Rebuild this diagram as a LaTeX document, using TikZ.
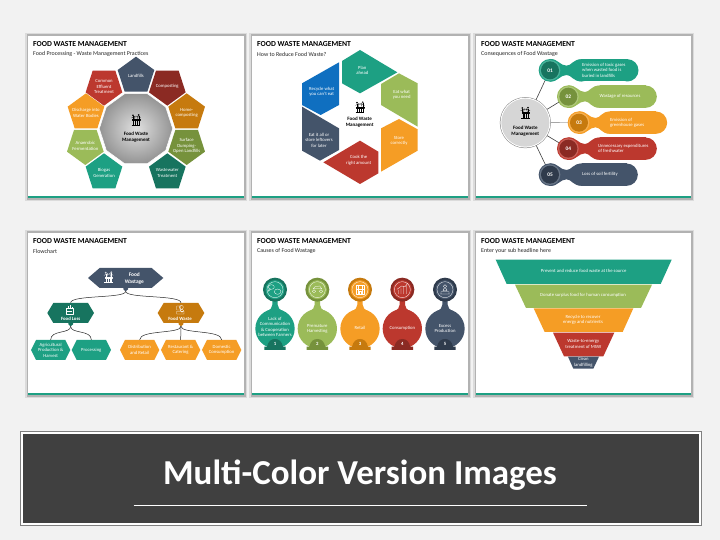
\documentclass[tikz,border=0pt]{standalone}
\usepackage{fontspec}
\setmainfont{Carlito}
\usetikzlibrary{shadings}
\definecolor{teal}{HTML}{1DA083}
\definecolor{dteal}{HTML}{17745F}
\definecolor{lgreen}{HTML}{9BBB59}
\definecolor{dgreen}{HTML}{76923C}
\definecolor{orng}{HTML}{F59D25}
\definecolor{dorng}{HTML}{C67A0E}
\definecolor{red1}{HTML}{BC382E}
\definecolor{dred}{HTML}{8B2A23}
\definecolor{slate}{HTML}{44546A}
\definecolor{dslate}{HTML}{2F3B4C}
\definecolor{blue1}{HTML}{0F6FC0}
\definecolor{pagebg}{HTML}{F2F2F2}
\tikzset{
 ttl/.style={font=\fontsize{7.7}{8}\selectfont\bfseries,anchor=west,inner sep=0pt,black},
 sub/.style={font=\fontsize{5.95}{6.5}\selectfont,anchor=west,inner sep=0pt,black!85},
 lab/.style={font=\fontsize{4.7}{5.4}\selectfont,text=white,align=center,inner sep=0pt},
 blab/.style={font=\fontsize{5}{6}\selectfont\bfseries,text=black,align=center,inner sep=0pt},
 hlab/.style={font=\fontsize{4.8}{6}\selectfont\bfseries,text=white,align=center,inner sep=0pt},
 wire/.style={black!85,line width=0.5pt},
 spoke/.style={black!75,line width=0.6pt},
 ico/.style={line width=0.3pt,line join=round}
}
\newcommand{\panel}[6]{%
 \fill[black!14] (#1-3,#2-3) rectangle (#3+3,#4+3);
 \fill[black!30] (#1-1.5,#2-1.5) rectangle (#3+1.5,#4+2);
 \fill[white] (#1,#2) rectangle (#3,#4);
 \fill[teal] (#1,#4-2) rectangle (#3,#4);
 \node[ttl] (#5t) at (#1+5,#2+8.3) {FOOD WASTE MANAGEMENT};
 \node[sub] (#5s) at (#1+5,#2+18.3) {#6};}
\newcommand{\potico}[3]{%
 \begin{scope}[shift={(#1,#2)},ico,draw=#3]
  \draw (-11,-4) rectangle (11,-1);
  \draw (-8,-1) -- (-8,13) (8,-1) -- (8,13) (-3,-1) -- (-3,13) (3,-1) -- (3,13);
  \draw (-13,13) -- (13,13);
  \draw (-5,-4) -- (-4,-11) -- (4,-12) -- (6,-4);
  \draw (-9,-16) circle (2.2) (8,-17) circle (2.2);
  \draw (-9,-13) -- (-9,-4) (8,-14) -- (8,-4);
  \draw (-14,-8) -- (-9,-10) -- (-2,-14) (14,-8) -- (8,-11) -- (2,-14);
 \end{scope}}
\newcommand{\petal}[5]{%
 \fill[#4] (#1,#2-#3*58) -- (#1+55,#2-#3*18) -- (#1+34,#2+#3*47) -- (#1-34,#2+#3*47) -- (#1-55,#2-#3*18) -- cycle;
 \node[lab] at (#1,#2+1) {#5};}
\newcommand{\hexa}[8]{%
 \fill[#7] (#2-#4,#3-#5) -- (#2+#4,#3-#5) -- (#2+#4+#6,#3) -- (#2+#4,#3+#5) -- (#2-#4,#3+#5) -- (#2-#4-#6,#3) -- cycle;
 \node[lab,minimum width={(2*#4+2*#6)/3*1pt},minimum height={2*#5/3*1pt}] (#1) at (#2,#3) {#8};}
\newcommand{\tagg}[4]{\fill[#4] (#1-7,#2) -- (#1+7,#2) -- (#1+7,#2+4) -- (#1,#2+10) -- (#1-7,#2+4) -- cycle; \coordinate (#3) at (#1,#2+10);}
% pill: cx cy xL xR main dark num textx text
\newcommand{\pill}[9]{%
 \fill[#5] (#3+33,#2) circle (33.5);
 \fill[#5] (#4-33,#2) circle (33.5);
 \fill[#5] (#3+33,#2-33.5) rectangle (#4-33,#2+33.5);
 \fill[#5] (#1,#2-34) .. controls (#1+25,#2-34) and (#1+30,#2-14) .. (#1+50,#2-14)
   .. controls (#1+65,#2-14) and (#3+5,#2-33.5) .. (#3+33,#2-33.5)
   -- (#3+33,#2+33.5) .. controls (#3+5,#2+33.5) and (#1+65,#2+14) .. (#1+50,#2+14)
   .. controls (#1+30,#2+14) and (#1+25,#2+34) .. (#1,#2+34) -- cycle;
 \fill[#5] (#1,#2) circle (34);
 \fill[white,opacity=.2] (#1,#2) circle (31);
 \fill[#6] (#1,#2) circle (27);
 \node[font=\fontsize{5.4}{6}\selectfont\bfseries,text=white,inner sep=0pt] (n#7) at (#1,#2) {#7};
 \node[lab,anchor=west,align=left] (p#7) at (#8,#2) {#9};}
\newcommand{\lolli}[6]{%
 \fill[#2] (#1-8,214) -- (#1+8,214) -- (#1+8,230) .. controls (#1+8,240) and (#1+14,244) .. (#1+24,250) -- (#1-24,250) .. controls (#1-14,244) and (#1-8,240) .. (#1-8,230) -- cycle;
 \fill[#3] (#1,185) circle (36);
 \fill[#2] (#1,185) circle (28.5);
 \draw[white,line width=.3pt] (#1,185) circle (24);
 \fill[#2] (#1,302) circle (59);
 \fill[#3] (#1-32,366) -- (#1-32,356) -- (#1-24,356) .. controls (#1-20,340) and (#1-12,333) .. (#1,333) .. controls (#1+12,333) and (#1+20,340) .. (#1+24,356) -- (#1+32,356) -- (#1+32,366) -- cycle;
 \node[font=\fontsize{4.8}{6}\selectfont\bfseries,text=white,inner sep=0pt] (c#4) at (#1,349) {#4};
 \node[lab] (d#4) at (#1,#6) {#5};}
\begin{document}
\begin{tikzpicture}[x=1pt,y=-1pt]
\useasboundingbox (0,0) rectangle (720,540);
\fill[pagebg] (0,0) rectangle (720,540);

\panel{28}{36}{244}{198}{a}{Food Processing - Waste Management Practices}
\panel{252}{36}{468}{198}{b}{How to Reduce Food Waste?}
\panel{476}{36}{691}{198}{c}{Consequences of Food Wastage}
\panel{28}{233}{244}{395}{d}{Flowchart}
\panel{252}{233}{468}{395}{e}{Causes of Food Wastage}
\panel{476}{233}{691}{395}{f}{Enter your sub headline here}

% ---------- panel 1
\begin{scope}[shift={(20,30)},scale=1/3]
\shade[inner color=black!12,outer color=black!42,draw=white,line width=.5pt]
 (348+34,296-105) -- (348+89,296-65) -- (348+110,296) -- (348+89,296+65) -- (348+34,296+105) -- (348-34,296+105) -- (348-89,296+65) -- (348-110,296) -- (348-89,296-65) -- (348-34,296-105) -- cycle;
\petal{348}{138}{1}{slate}{Landfills}
\petal{442}{169}{-1}{dred}{Composting}
\petal{500}{248}{1}{dorng}{Home-\\composting}
\petal{500}{347}{-1}{dgreen}{Surface\\Dumping-\\Open Landfills}
\petal{442}{428}{1}{dteal}{Wastewater\\Treatment}
\petal{252}{428}{1}{teal}{Biogas\\Generation}
\petal{196}{347}{-1}{lgreen}{Anaerobic\\Fermentation}
\petal{198}{248}{1}{orng}{Discharge into\\Water Bodies}
\petal{252}{169}{-1}{red1}{Common\\Effluent\\Treatment}
\potico{348}{272}{black}
\node[blab] (acen) at (348,321) {Food Waste\\Management};
\end{scope}

% ---------- panel 2
\begin{scope}[shift={(245,30)},scale=1/3]
\fill[teal] (291,93) -- (345,60) -- (457,127) -- (345,190) -- (291,160) -- cycle;
\fill[lgreen] (408,162) -- (462,130) -- (518,160) -- (518,290) -- (408,225) -- cycle;
\fill[orng] (408,295) -- (462,267) -- (518,298) -- (518,362) -- (408,425) -- cycle;
\fill[red1] (345,332) -- (400,365) -- (400,430) -- (345,462) -- (235,397) -- cycle;
\fill[slate] (171,230) -- (282,295) -- (282,360) -- (225,392) -- (171,362) -- cycle;
\fill[blue1] (282,97) -- (282,225) -- (227,255) -- (171,225) -- (171,160) -- cycle;
\node[lab] (b1) at (352,121) {Plan\\ahead};
\node[lab] (b2) at (470,195) {Eat what\\you need};
\node[lab] (b3) at (462,332) {Store\\correctly};
\node[lab] (b4) at (341,391) {Cook the\\right amount};
\node[lab] (b5) at (222,330) {Eat it all or\\store leftovers\\for later};
\node[lab] (b6) at (230,186) {Recycle what\\you can't eat};
\potico{345}{234}{black}
\node[blab] (bcen) at (344,277) {Food Waste\\Management};
\end{scope}

% ---------- panel 3
\begin{scope}[shift={(470,30)},scale=1/3]
\coordinate (cc) at (166,278);
\coordinate (s1) at (240,120);
\coordinate (s2) at (295,199);
\coordinate (s3) at (327,277);
\coordinate (s4) at (295,355);
\coordinate (s5) at (240,433);
\draw[spoke] (cc) -- (s1) (cc) -- (s2) (cc) -- (s4) (cc) -- (s5);
\draw[black!35,line width=.6pt] (cc) -- (s3);
\pill{240}{121}{303}{505}{teal}{dteal}{01}{336}{Emission of toxic gases\\when wasted food is\\buried in landfills}
\pill{295}{200}{357}{560}{lgreen}{dgreen}{02}{388}{Wastage of resources}
\pill{327}{278}{388}{591}{orng}{dorng}{03}{420}{Emission of\\greenhouse gases}
\pill{295}{356}{357}{560}{red1}{dred}{04}{384}{Unnecessary expenditures\\of freshwater}
\pill{240}{434}{303}{503}{slate}{dslate}{05}{336}{Loss of soil fertility}
\fill[black!50] (166,278) circle (76.5);
\fill[white] (166,278) circle (75);
\fill[black!16] (166,278) circle (72);
\potico{166}{250}{black}
\node[blab] (ccen) at (166,303) {Food Waste\\Management};
\end{scope}

% ---------- panel 4
\begin{scope}[shift={(20,228)},scale=1/3]
\hexa{top}{317}{150}{78}{30}{35}{slate}{}
\tagg{317}{180}{ta}{slate}
\hexa{loss}{152}{255}{52}{30}{18}{dteal}{}
\tagg{152}{285}{tb}{dteal}
\hexa{wast}{483}{255}{52}{30}{18}{dorng}{}
\tagg{483}{285}{tc}{dorng}
\hexa{h1}{92}{366}{44}{30}{15}{teal}{Agricultural\\Production \&\\Harvest}
\hexa{h2}{214}{366}{44}{30}{15}{teal}{Processing}
\hexa{h3}{359}{366}{44}{30}{15}{orng}{Distribution\\and Retail}
\hexa{h4}{482}{366}{44}{30}{15}{orng}{Restaurant \&\\Catering}
\hexa{h5}{605}{366}{44}{30}{15}{orng}{Domestic\\Consumption}
\draw[wire] (ta) .. controls (317,212) and (152,200) .. (loss.north);
\draw[wire] (ta) .. controls (317,212) and (483,200) .. (wast.north);
\draw[wire] (tb) .. controls (152,318) and (92,305) .. (h1.north);
\draw[wire] (tb) .. controls (152,318) and (214,305) .. (h2.north);
\draw[wire] (tc) .. controls (483,318) and (359,305) .. (h3.north);
\draw[wire] (tc) -- (h4.north);
\draw[wire] (tc) .. controls (483,318) and (605,305) .. (h5.north);
\node[font=\fontsize{5.4}{6.6}\selectfont\bfseries,text=white,align=center,inner sep=0pt] (tl) at (343,151) {Food\\Wastage};
\potico{266}{150}{white}
\node[hlab] (ll) at (152,272) {Food Loss};
\node[hlab] (wl) at (480,272) {Food Waste};
\begin{scope}[ico,draw=white]
 \draw (138,240) rectangle (160,258) (143,240) -- (143,234) (150,240) -- (150,232) (156,240) -- (156,236) (142,250) -- (156,250);
 \draw (470,234) rectangle (482,246) (484,238) circle (6) (470,250) rectangle (492,258) (486,248) circle (5);
\end{scope}
\end{scope}

% ---------- panel 5
\begin{scope}[shift={(245,228)},scale=1/3]
\lolli{90}{teal}{dteal}{1}{Lack of\\Communication\\\& Cooperation\\between Farmers}{297}
\lolli{217}{lgreen}{dgreen}{2}{Premature\\Harvesting}{302}
\lolli{345}{orng}{dorng}{3}{Retail}{301}
\lolli{472}{red1}{dred}{4}{Consumption}{301}
\lolli{600}{slate}{dslate}{5}{Excess\\Production}{302}
\begin{scope}[ico,draw=white]
 \draw (79,177) ellipse (9 and 7) (98,191) ellipse (10 and 8) (72,183) -- (70,190) -- (76,184);
 \draw (207,190) circle (5) (228,190) circle (5) (205,182) -- (230,182) -- (224,174) -- (210,176) -- cycle;
 \draw (333,172) rectangle (357,198) (339,172) -- (339,198) (351,172) -- (351,198) (333,184) -- (357,184) (342,198) -- (342,188) -- (348,188) -- (348,198);
 \draw (460,198) -- (460,186) (468,198) -- (468,181) (476,198) -- (476,176) (484,198) -- (484,171) (456,184) -- (470,174) -- (480,176) -- (488,166);
 \draw (600,175) circle (5) (594,188) -- (606,188) -- (603,181) -- (597,181) -- cycle (586,198) -- (614,198) (588,191) rectangle (612,198);
\end{scope}
\end{scope}

% ---------- panel 6
\begin{scope}[shift={(470,228)},scale=1/3]
\fill[teal] (77,95) -- (605,95) -- (572,168) -- (110,168) -- cycle;
\fill[lgreen] (135,170) -- (546,170) -- (513,240) -- (168,240) -- cycle;
\fill[orng] (191,241) -- (490,241) -- (458,312) -- (224,312) -- cycle;
\fill[red1] (249,314) -- (433,314) -- (400,385) -- (282,385) -- cycle;
\fill[slate] (294,386) -- (387,386) -- (370,422) -- (310,422) -- cycle;
\node[lab] (f1) at (341,130) {Prevent and reduce food waste at the source};
\node[lab] (f2) at (339,203) {Donate surplus food for human consumption};
\node[lab] (f3) at (339,276) {Recycle to recover\\energy and nutrients};
\node[lab] (f4) at (340,348) {Waste-to-energy\\treatment of MSW};
\node[lab] (f5) at (340,403) {Clean\\landfilling};
\end{scope}

% ---------- banner
\fill[black!50] (19.5,431) rectangle (701.5,526);
\fill[white] (20.5,432) rectangle (700.5,525);
\fill[black!75] (22.5,433.5) rectangle (698.5,523);
\node[font=\fontsize{35}{40}\selectfont\bfseries,text=white,inner sep=0pt] (bn) at (360,475) {Multi-Color Version Images};
\draw[white,line width=.7pt] (133.5,505.3) -- (587,505.3);
\end{tikzpicture}
\end{document}
